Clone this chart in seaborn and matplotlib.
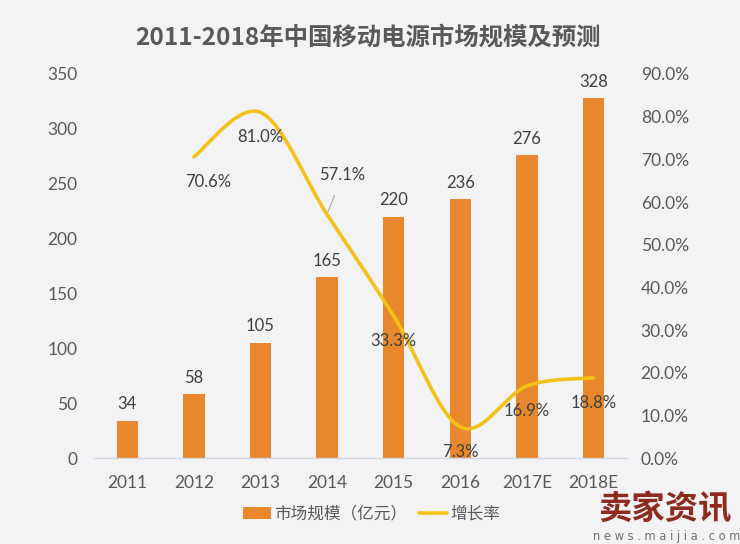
import matplotlib
matplotlib.use("Agg")
import matplotlib.pyplot as plt
import seaborn as sns
import numpy as np
import pandas as pd
from matplotlib.path import Path
from matplotlib.patches import PathPatch, Patch
from matplotlib.lines import Line2D

years = ['2011', '2012', '2013', '2014', '2015', '2016', '2017E', '2018E']
market = [34, 58, 105, 165, 220, 236, 276, 328]
growth = [None, 70.6, 81.0, 57.1, 33.3, 7.3, 16.9, 18.8]
growth_labels = ['', '70.6%', '81.0%', '57.1%', '33.3%', '7.3%', '16.9%', '18.8%']
left_ticks = [0, 50, 100, 150, 200, 250, 300, 350]
right_ticks = [0, 10, 20, 30, 40, 50, 60, 70, 80, 90]
title = '2011-2018年中国移动电源市场规模及预测'
bar_name = '市场规模（亿元）'
line_name = '增长率'

BG = '#F3F2F5'
BAR = '#E8872B'
LINE = '#F2C218'
TXT = '#595959'
LBL = '#404040'

sns.set_theme(style='white')
plt.rcParams['font.family'] = ['Lato', 'Noto Sans CJK SC', 'DejaVu Sans']

fig = plt.figure(figsize=(7.4, 5.44), dpi=100, facecolor=BG)
ax = fig.add_axes([0.127, 0.158, 0.72, 0.706])
ax.set_facecolor(BG)

df = pd.DataFrame({'year': years, 'market': market})
sns.barplot(data=df, x='year', y='market', color=BAR, width=0.32, ax=ax,
            saturation=1, edgecolor='none')
ax.set_xlim(-0.5, len(years) - 0.5)
ax.set_ylim(0, 350)
ax.set_yticks(left_ticks)
ax.set_yticklabels([str(t) for t in left_ticks], color=TXT, fontsize=12.5)
ax.set_xticks(range(len(years)))
ax.set_xticklabels(years, color=TXT, fontsize=12.5)
ax.set_xlabel('')
ax.set_ylabel('')
for s in ['top', 'right', 'left']:
    ax.spines[s].set_visible(False)
ax.spines['bottom'].set_color('#D6D6DE')
ax.spines['bottom'].set_linewidth(1)
ax.tick_params(axis='both', length=0)
ax.tick_params(axis='y', pad=12)
ax.tick_params(axis='x', pad=12)

for i, v in enumerate(market):
    ax.annotate(str(v), (i, v), xytext=(0, 6), textcoords='offset points',
                ha='center', va='bottom', fontsize=12, color=LBL)

ax2 = ax.twinx()
ax2.set_ylim(0, 90)
ax2.set_yticks(right_ticks)
ax2.set_yticklabels([f'{t:.1f}%' for t in right_ticks], color=TXT, fontsize=12.5)
for s in ['top', 'right', 'left', 'bottom']:
    ax2.spines[s].set_visible(False)
ax2.tick_params(axis='y', length=0, pad=10)
ax2.grid(False)
ax.grid(False)

# smooth line (Catmull-Rom bezier through data points)
pts = [(i, g) for i, g in enumerate(growth) if g is not None]
P = np.array(pts, dtype=float)
n = len(P)
verts = [tuple(P[0])]
codes = [Path.MOVETO]
for k in range(n - 1):
    p0 = P[k - 1] if k > 0 else P[k]
    p1 = P[k]
    p2 = P[k + 1]
    p3 = P[k + 2] if k + 2 < n else P[k + 1]
    c1 = p1 + (p2 - p0) / 6.0
    c2 = p2 - (p3 - p1) / 6.0
    verts += [tuple(c1), tuple(c2), tuple(p2)]
    codes += [Path.CURVE4] * 3
ax2.add_patch(PathPatch(Path(verts, codes), facecolor='none', edgecolor=LINE,
                        lw=2.6, capstyle='round', joinstyle='round'))

for i, (g, lab) in enumerate(zip(growth, growth_labels)):
    if g is None:
        continue
    if lab == '57.1%':
        ax2.annotate(lab, (i, g), xytext=(i + 0.23, g + 9.2), textcoords='data',
                     ha='center', va='center', fontsize=12, color=LBL,
                     arrowprops=dict(arrowstyle='-', color='#A6A6A6', lw=0.8,
                                     shrinkA=7, shrinkB=2))
    elif lab == '70.6%':
        ax2.annotate(lab, (i, g), xytext=(10, -18), textcoords='offset points',
                     ha='center', va='center', fontsize=12, color=LBL)
    else:
        ax2.annotate(lab, (i, g), xytext=(0, -18), textcoords='offset points',
                     ha='center', va='center', fontsize=12, color=LBL)

fig.text(0.497, 0.93, title, ha='center', va='center', fontsize=17.6,
         fontweight='bold', color=TXT, family=['Noto Sans CJK SC', 'DejaVu Sans'])

handles = [Patch(facecolor=BAR, edgecolor='none'),
           Line2D([0], [0], color=LINE, lw=2.6)]
leg = fig.legend(handles, [bar_name, line_name], loc='center',
                 bbox_to_anchor=(0.502, 0.055), ncol=2, frameon=False,
                 handlelength=1.7, handletextpad=0.2, columnspacing=0.7,
                 prop={'family': ['Noto Sans CJK SC', 'DejaVu Sans'], 'size': 12})
for t in leg.get_texts():
    t.set_color(TXT)

fig.text(0.899, 0.062, '卖家资讯', ha='center', va='center', fontsize=24,
         fontweight='bold', color='#8E2B1F', family=['Noto Sans CJK SC', 'DejaVu Sans'])
fig.text(0.901, 0.014, 'n e w s . m a i j i a . c o m', ha='center', va='center',
         fontsize=8.3, color='#6F6F6F', family=['DejaVu Sans'])

fig.savefig('out.png', dpi=100, facecolor=BG)
